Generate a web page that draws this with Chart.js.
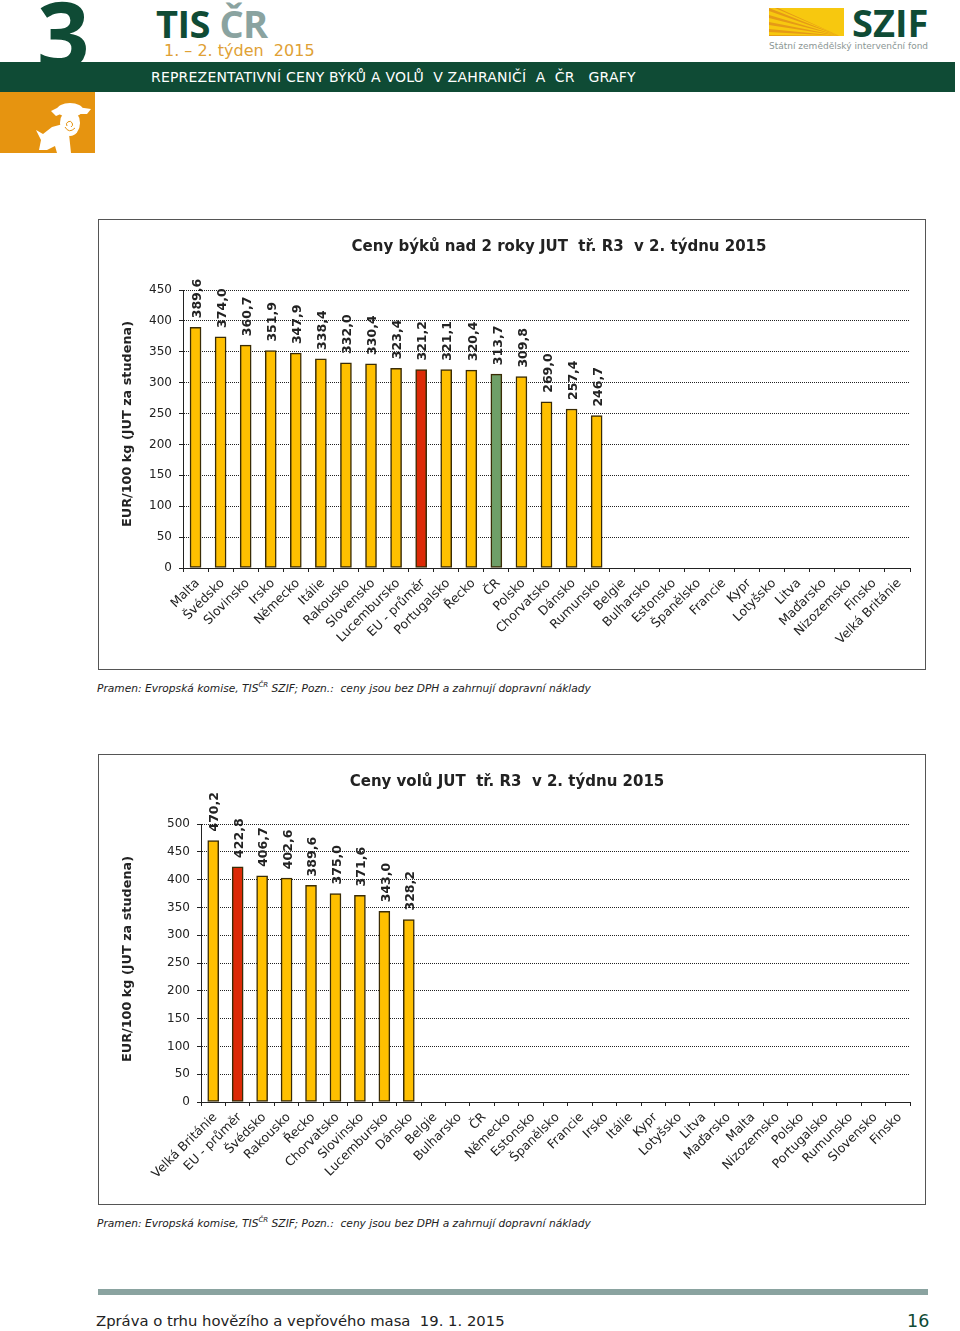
<!DOCTYPE html>
<html lang="cs">
<head>
<meta charset="utf-8">
<title>Reprezentativní ceny býků a volů</title>
<script src="https://cdn.jsdelivr.net/npm/chart.js@4/dist/chart.umd.min.js"></script>
<style>
    html, body { margin: 0; padding: 0; background: #fff; }
    body { position: relative; width: 960px; height: 1331px; overflow: hidden; font-family: "DejaVu Sans", sans-serif; }
    .abs { position: absolute; white-space: pre; }
    .band { left: 0; top: 62px; width: 955px; height: 30px; background: #0f4b35; }
    .band-text { left: 151px; top: 68px; font: 14px/18px "DejaVu Sans", sans-serif; color: #fff; letter-spacing: 0.2px; }
    .num { left: 37px; top: -22px; font: bold 92px/110px "Open Sans", sans-serif; color: #0f4b35; }
    .tis { left: 156px; top: 0; font: bold 38px/46px "Open Sans", sans-serif; color: #0f4b35; letter-spacing: -0.5px; }
    .tis span { color: #8aa3a0; }
    .weeks { left: 164px; top: 41px; font: 16px/20px "DejaVu Sans", sans-serif; color: #dfa135; }
    .orange { left: 0; top: 92px; width: 95px; height: 61px; background: #e69410; }
    .szif { left: 852px; top: 0; font: bold 38px/44px "Open Sans", sans-serif; color: #0f4b35; }
    .fond { left: 769px; top: 40px; font: 9px/13px "DejaVu Sans", sans-serif; color: #8b9694; }
    .box { left: 98px; border: 1px solid #555; width: 826px; height: 449px; }
    .box canvas { display: block; }
    .note { left: 97px; font: italic 10.65px/14px "DejaVu Sans", sans-serif; color: #222; }
    .note sup { font-size: 7px; line-height: 0; }
    .rule { left: 98px; top: 1289px; width: 830px; height: 6px; background: #8aa3a0; }
    .foot { left: 96px; top: 1311px; font: 14.8px/20px "DejaVu Sans", sans-serif; color: #222; }
    .page { left: 907px; top: 1309px; font: 17.5px/24px "DejaVu Sans", sans-serif; color: #0f4b35; }
</style>
</head>
<body>
    <div class="abs num">3</div>
    <div class="abs tis">TIS <span>ČR</span></div>
    <div class="abs weeks">1. – 2. týden  2015</div>
    <div class="abs band"></div>
    <div class="abs band-text">REPREZENTATIVNÍ CENY BÝKŮ A VOLŮ  V ZAHRANIČÍ  A  ČR   GRAFY</div>
    <div class="abs orange"></div>
    <svg class="abs" style="left:33px;top:100px" width="62" height="54" viewBox="0 0 62 54">
        <g fill="#fff">
            <ellipse cx="37" cy="10" rx="13" ry="7"/>
            <path d="M18 11 L26 7 L30 13 L23 16 Z M44 7 L58 9 L54 14 L46 14 Z"/>
            <ellipse cx="37" cy="23" rx="10" ry="13"/>
            <path d="M3 30 L10 34 L19 27 L30 24 L36 34 L38 53 L24 53 L22 46 L14 50 L6 50 L8 40 Z"/>
        </g>
        <path fill="none" stroke="#e69410" stroke-width="1" d="M32 27 Q36 34 42 28 M34 26 a3 3 0 1 1 4 1"/>
    </svg>
    <svg class="abs" style="left:769px;top:8px" width="75" height="28" viewBox="0 0 75 28">
        <rect width="75" height="28" fill="#f7c80f"/>
        <path fill="#e59a17" d="M71 28 L0 0 L0 3 Z M71 28 L0 7 L0 10 Z M71 28 L0 14 L0 17 Z M71 28 L0 21 L0 24 Z M71 28 L6 0 L9 0 Z M71 28 L0 27 L0 28 Z"/>
    </svg>
    <div class="abs szif">SZIF</div>
    <div class="abs fond">Státní zemědělský intervenční fond</div>

    <div class="abs box" style="top:219px"><canvas id="bullsChart" width="826" height="449"></canvas></div>
    <div class="abs note" style="top:682px">Pramen: Evropská komise, TIS<sup>ČR</sup> SZIF; Pozn.:  ceny jsou bez DPH a zahrnují dopravní náklady</div>

    <div class="abs box" style="top:754px"><canvas id="steersChart" width="826" height="449"></canvas></div>
    <div class="abs note" style="top:1217px">Pramen: Evropská komise, TIS<sup>ČR</sup> SZIF; Pozn.:  ceny jsou bez DPH a zahrnují dopravní náklady</div>

    <div class="abs rule"></div>
    <div class="abs foot">Zpráva o trhu hovězího a vepřového masa  19. 1. 2015</div>
    <div class="abs page">16</div>

<script>
// Ceny býků
const bullCategories = ['Malta', 'Švédsko', 'Slovinsko', 'Irsko', 'Německo', 'Itálie', 'Rakousko', 'Slovensko', 'Lucembursko', 'EU - průměr', 'Portugalsko', 'Řecko', 'ČR', 'Polsko', 'Chorvatsko', 'Dánsko', 'Rumunsko', 'Belgie', 'Bulharsko', 'Estonsko', 'Španělsko', 'Francie', 'Kypr', 'Lotyšsko', 'Litva', 'Maďarsko', 'Nizozemsko', 'Finsko', 'Velká Británie'];
const bullValues = [389.6, 374.0, 360.7, 351.9, 347.9, 338.4, 332.0, 330.4, 323.4, 321.2, 321.1, 320.4, 313.7, 309.8, 269.0, 257.4, 246.7];
const bullTicks = [0, 50, 100, 150, 200, 250, 300, 350, 400, 450];

// Ceny volů
const steerCategories = ['Velká Británie', 'EU - průměr', 'Švédsko', 'Rakousko', 'Řecko', 'Chorvatsko', 'Slovinsko', 'Lucembursko', 'Dánsko', 'Belgie', 'Bulharsko', 'ČR', 'Německo', 'Estonsko', 'Španělsko', 'Francie', 'Irsko', 'Itálie', 'Kypr', 'Lotyšsko', 'Litva', 'Maďarsko', 'Malta', 'Nizozemsko', 'Polsko', 'Portugalsko', 'Rumunsko', 'Slovensko', 'Finsko'];
const steerValues = [470.2, 422.8, 406.7, 402.6, 389.6, 375.0, 371.6, 343.0, 328.2];
const steerTicks = [0, 50, 100, 150, 200, 250, 300, 350, 400, 450, 500];

const TEXT = '#222';
const FONT = '"DejaVu Sans", sans-serif';

function barColor(name) {
    if (name === 'EU - průměr') return '#dc2a06';
    if (name === 'ČR') return '#6f9f68';
    return '#ffc000';
}

// Popisky hodnot nad sloupci, otočené o 90 stupňů
const valueLabels = {
    id: 'valueLabels',
    afterDatasetsDraw(chart) {
        const { ctx } = chart;
        const meta = chart.getDatasetMeta(0);
        ctx.save();
        ctx.font = 'bold 12.5px ' + FONT;
        ctx.fillStyle = TEXT;
        ctx.textAlign = 'left';
        ctx.textBaseline = 'middle';
        meta.data.forEach((bar, i) => {
            const text = chart.data.datasets[0].data[i].toFixed(1).replace('.', ',');
            ctx.save();
            ctx.translate(bar.x + 2, bar.y - 9);
            ctx.rotate(-Math.PI / 2);
            ctx.fillText(text, 0, 0);
            ctx.restore();
        });
        ctx.restore();
    }
};

// Nadpis a popis osy y nejsou v originále na středu, kreslí se zvlášť
const chartTexts = {
    id: 'chartTexts',
    afterDraw(chart, args, opts) {
        const { ctx } = chart;
        ctx.save();
        ctx.fillStyle = TEXT;
        ctx.textAlign = 'center';
        ctx.textBaseline = 'middle';
        ctx.font = 'bold 15px ' + FONT;
        ctx.fillText(opts.title, opts.titleX, opts.titleY);
        ctx.translate(29, opts.axisY);
        ctx.rotate(-Math.PI / 2);
        ctx.font = 'bold 12.8px ' + FONT;
        ctx.fillText('EUR/100 kg (JUT za studena)', 0, 0);
        ctx.restore();
    }
};

function drawChart(id, categories, values, ticks, cfg) {
    return new Chart(document.getElementById(id), {
        type: 'bar',
        data: {
            labels: categories,
            datasets: [{
                data: values,
                backgroundColor: values.map((v, i) => barColor(categories[i])),
                borderColor: '#3a2c06',
                borderWidth: 1.5,
                borderSkipped: false,
                barThickness: 11
            }]
        },
        plugins: [valueLabels, chartTexts],
        options: {
            responsive: false,
            animation: false,
            layout: { padding: { top: cfg.top, right: 15 } },
            plugins: {
                legend: { display: false },
                tooltip: { enabled: false },
                chartTexts: cfg
            },
            scales: {
                x: {
                    afterFit(scale) { scale.height = cfg.bottom; },
                    grid: { drawOnChartArea: false, color: '#222', tickLength: 4, offset: true },
                    border: { color: '#222' },
                    ticks: {
                        autoSkip: false,
                        maxRotation: 45,
                        minRotation: 45,
                        padding: 4,
                        labelOffset: 2,
                        color: TEXT,
                        font: { family: FONT, size: 12.5 }
                    }
                },
                y: {
                    min: 0,
                    max: ticks[ticks.length - 1],
                    afterFit(scale) { scale.width = cfg.left; },
                    afterBuildTicks(scale) { scale.ticks = ticks.map(v => ({ value: v })); },
                    grid: { color: '#222', tickLength: 4, lineWidth: 1, tickColor: '#222' },
                    border: { color: '#222', dash: [1, 1] },
                    ticks: {
                        padding: 7,
                        color: TEXT,
                        font: { family: FONT, size: 12 }
                    }
                }
            }
        }
    });
}

drawChart('bullsChart', bullCategories, bullValues, bullTicks, {
    top: 70, bottom: 101, left: 84,
    title: 'Ceny býků nad 2 roky JUT  tř. R3  v 2. týdnu 2015', titleX: 460, titleY: 27, axisY: 204
});
drawChart('steersChart', steerCategories, steerValues, steerTicks, {
    top: 69, bottom: 102, left: 102,
    title: 'Ceny volů JUT  tř. R3  v 2. týdnu 2015', titleX: 408, titleY: 27, axisY: 204
});
</script>
</body>
</html>
